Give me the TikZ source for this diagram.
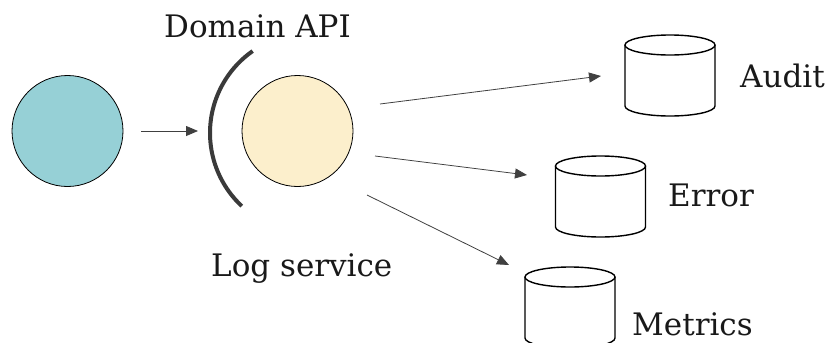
\documentclass[tikz,border=0pt]{standalone}
\usepackage{fontspec}
\setmainfont{DejaVu Serif}
\usetikzlibrary{arrows.meta}
\definecolor{tealfill}{HTML}{96D0D6}
\definecolor{creamfill}{HTML}{FCEFCC}
\definecolor{arrowgray}{HTML}{404040}
\definecolor{arcgray}{HTML}{3A3A3A}
\begin{document}
\begin{tikzpicture}[x=1pt,y=-1pt,
  lbl/.style={font=\fontsize{31}{37}\selectfont, anchor=base west, inner sep=0pt, text=black!90},
  ball/.style={circle, draw=black, line width=0.8pt, minimum size=111pt, inner sep=0pt},
  conn/.style={draw=arrowgray, line width=0.8pt, -{Triangle[length=12pt,width=10pt]}},
  dbcyl/.pic={
    \draw[line width=1.4pt, fill=white] (-45,0) -- (-45,61)
      arc[start angle=180, end angle=360, x radius=45pt, y radius=10pt] -- (45,0);
    \draw[line width=1.4pt] (0,0) ellipse [x radius=45pt, y radius=10pt];
  }]
\clip (0,0) rectangle (831,343);
\fill[white] (0,0) rectangle (831,343);
% circles
\node[ball, fill=tealfill] (client) at (67.5,131) {};
\node[ball, fill=creamfill] (svc) at (297.5,131) {};
% interface arc
\draw[line width=4pt, arcgray] (310,133) ++(125:100pt) coordinate (arctop)
  arc[start angle=125, end angle=227, radius=100pt] coordinate (arcbot);
% databases
\pic at (670,45) {dbcyl};
\pic at (600.5,166) {dbcyl};
\pic at (570,277) {dbcyl};
% arrow end points
\coordinate (c0s) at (141,131);
\coordinate (c0e) at (198,131);
\coordinate (c1s) at (380,104);
\coordinate (c1e) at (601,76);
\coordinate (c2s) at (375,156);
\coordinate (c2e) at (527,175);
\coordinate (c3s) at (367,195);
\coordinate (c3e) at (509,265);
\draw[conn] (c0s) -- (c0e);
\draw[conn] (c1s) -- (c1e);
\draw[conn] (c2s) -- (c2e);
\draw[conn] (c3s) -- (c3e);
% labels
\node[lbl] (lapi) at (164,37) {Domain API};
\node[lbl] (llog) at (211,276) {Log service};
\node[lbl] (laud) at (740,87) {Audit};
\node[lbl] (lerr) at (668,206) {Error};
\node[lbl] (lmet) at (632,335) {Metrics};
\end{tikzpicture}
\end{document}
